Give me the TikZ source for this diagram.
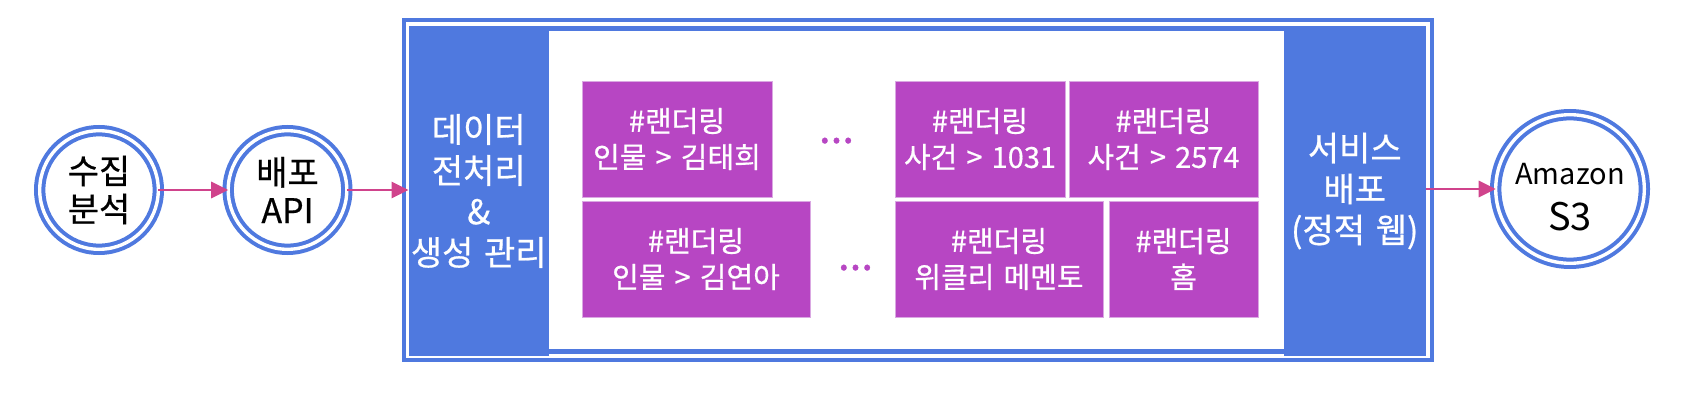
\documentclass[tikz,border=0pt]{standalone}
\usepackage{fontspec}
\setmainfont[WordSpace=1.4,FakeBold=0.6]{Noto Sans CJK KR}
\newfontfamily\awsfont{Noto Sans CJK KR}
\usetikzlibrary{arrows.meta}
\definecolor{frameblue}{RGB}{79,121,223}
\definecolor{boxpurple}{RGB}{183,70,195}
\definecolor{boxedge}{RGB}{218,168,226}
\definecolor{arrowpink}{RGB}{208,67,140}
\begin{document}
\begin{tikzpicture}[x=1pt,y=-1pt,
  ring/.style={circle, draw=frameblue, line width=4pt, double=white, double distance=3.4pt,
    inner sep=0pt, outer sep=0pt},
  ringtext/.style={align=center, text=black, inner sep=0pt, font=\fontsize{34}{38}\selectfont},
  column/.style={fill=frameblue, inner sep=0pt, outer sep=0pt, text=white, align=center,
    font=\fontsize{34}{41}\selectfont},
  tile/.style={fill=boxpurple, draw=boxedge, line width=0.8pt, inner sep=0pt, outer sep=0pt,
    text=white, align=center, minimum height=116pt, font=\fontsize{29}{36}\selectfont},
  flow/.style={draw=arrowpink, line width=2.8pt, -{Triangle[length=17pt,width=16pt]}},
  more/.style={text=boxpurple, inner sep=0pt, anchor=base, font=\fontsize{42}{42}\selectfont}]
\useasboundingbox (0,0) rectangle (1704,417);
% container frame
\draw[frameblue, line width=4pt] (404,20) rectangle (1432,360);
\fill[frameblue] (408.5,26) rectangle (1425.5,354);
\fill[white] (549,31) rectangle (1284,349);
% columns
\node[column, minimum width=140.5pt, minimum height=330pt] (lc) at (478.75,191) {데이터\\전처리\\\&\\생성 관리};
\node[column, minimum width=141.5pt, minimum height=330pt] (rc) at (1354.75,191) {서비스\\배포\\(정적 웹)};
% tiles
\node[tile, minimum width=190pt] (ta) at (677,139) {\#랜더링\\인물 > 김태희};
\node[tile, minimum width=170pt] (tb) at (980,139) {\#랜더링\\사건 > 1031};
\node[tile, minimum width=189pt] (tc) at (1163.5,139) {\#랜더링\\사건 > 2574};
\node[tile, minimum width=228pt] (td) at (696,259) {\#랜더링\\인물 > 김연아};
\node[tile, minimum width=208pt] (te) at (999,259) {\#랜더링\\위클리 메멘토};
\node[tile, minimum width=149pt] (tf) at (1183.5,259) {\#랜더링\\홈};
\node[more] (d1) at (836.5,143) {...};
\node[more] (d2) at (855.5,270) {...};
% circles
\node[ring, minimum size=118.6pt] (c1) at (99,190) {};
\node[ringtext] (c1t) at (c1) {수집\\분석};
\node[ring, minimum size=118.6pt] (c2) at (287.5,190) {};
\node[ringtext] (c2t) at (c2) {배포\\API};
\node[ring, minimum size=148.6pt] (c3) at (1570,189) {};
\node[align=center, text=black, inner sep=0pt, anchor=base, font=\awsfont\fontsize{29}{46}\selectfont] (c3t) at (1570,230)
  {Amazon\\\fontsize{38}{46}\selectfont S3};
% connectors
\draw[flow] (c1.east) -- (c2.west);
\draw[flow] (c2.east) -- (c2.east -| lc.west);
\draw[flow] (rc.east |- c3.west) -- (c3.west);
\end{tikzpicture}
\end{document}
